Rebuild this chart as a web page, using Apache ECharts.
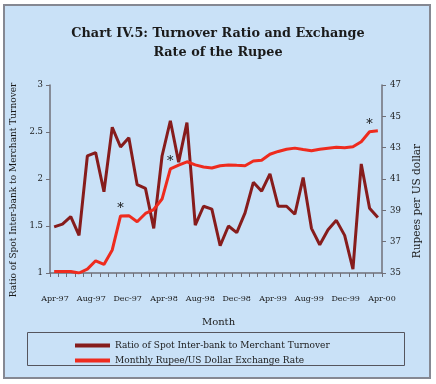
<!DOCTYPE html>
<html>
<head>
<meta charset="utf-8">
<script src="https://cdn.jsdelivr.net/npm/echarts@6/dist/echarts.min.js"></script>
<style>
html,body{margin:0;padding:0;background:#fff;}
#chart{width:436px;height:384px;}
</style>
</head>
<body>
<div id="chart"></div>
<script>
// Monthly data, Apr-97 .. Jul-00 (40 months)
const months = ['Apr-97','May-97','Jun-97','Jul-97','Aug-97','Sep-97','Oct-97','Nov-97','Dec-97','Jan-98','Feb-98','Mar-98',
  'Apr-98','May-98','Jun-98','Jul-98','Aug-98','Sep-98','Oct-98','Nov-98','Dec-98','Jan-99','Feb-99','Mar-99',
  'Apr-99','May-99','Jun-99','Jul-99','Aug-99','Sep-99','Oct-99','Nov-99','Dec-99','Jan-00','Feb-00','Mar-00',
  'Apr-00','May-00','Jun-00','Jul-00'];
const turnoverRatio = [1.49,1.52,1.60,1.40,2.245,2.28,1.865,2.55,2.34,2.44,1.94,1.90,
  1.475,2.245,2.62,2.18,2.60,1.51,1.71,1.68,1.29,1.50,1.43,1.64,
  1.965,1.87,2.055,1.71,1.71,1.625,2.015,1.475,1.30,1.46,1.56,1.40,
  1.04,2.16,1.69,1.59];
const exchangeRate = [35.1,35.1,35.1,35.0,35.25,35.78,35.55,36.47,38.64,38.66,38.27,38.8,
  39.05,39.72,41.65,41.88,42.1,41.9,41.77,41.7,41.85,41.9,41.87,41.85,
  42.15,42.2,42.58,42.76,42.9,42.97,42.88,42.8,42.9,42.96,43.02,43.0,
  43.06,43.38,44.02,44.08];
const starredMonths = ['Dec-97','Jun-98','Jun-00'];
const xTickLabels = ['Apr-97','Aug-97','Dec-97','Apr-98','Aug-98','Dec-98','Apr-99','Aug-99','Dec-99','Apr-00'];
const leftTicks = {min:1, max:3, interval:0.5};
const rightTicks = {min:35, max:47, interval:2};
const seriesNames = ['Ratio of Spot Inter-bank to Merchant Turnover','Monthly Rupee/US Dollar Exchange Rate'];

const FONT = 'DejaVu Serif';
const bg = '#c9e1f7';
const axisCol = '#6f6f78';
const txtCol = '#1a1a1a';

const starPoints = starredMonths.map(m => ({coord:[m, exchangeRate[months.indexOf(m)]]}));

const chart = echarts.init(document.getElementById('chart'), null, {renderer:'canvas'});
chart.setOption({
  backgroundColor:'#ffffff',
  animation:false,
  graphic:[
    {type:'rect', z:-10, shape:{x:4,y:5,width:426,height:373}, style:{fill:bg, stroke:'#858892', lineWidth:2}},
    {type:'rect', z:5, shape:{x:27.5,y:332.5,width:377,height:33}, style:{fill:'none', stroke:'#55555e', lineWidth:1}},
    {type:'text', z:5, x:14, y:190, rotation:Math.PI/2, style:{text:'Ratio of Spot Inter-bank to Merchant Turnover', fontFamily:FONT, fontSize:9, fill:txtCol, textAlign:'center', textVerticalAlign:'middle'}},
    {type:'text', z:5, x:417, y:201, rotation:Math.PI/2, style:{text:'Rupees per US dollar', fontFamily:FONT, fontSize:10.5, fill:txtCol, textAlign:'center', textVerticalAlign:'middle'}}
  ],
  title:{
    text:'Chart IV.5: Turnover Ratio and Exchange\nRate of the Rupee',
    left:'center', top:19,
    textStyle:{fontFamily:FONT, fontSize:12.8, fontWeight:'bold', color:txtCol, lineHeight:19}
  },
  legend:{
    orient:'vertical', left:70, top:336, itemGap:6,
    itemWidth:35, itemHeight:4, icon:'rect',
    textStyle:{fontFamily:FONT, fontSize:9, color:txtCol},
    data:seriesNames
  },
  grid:[
    {left:50, right:54, top:85, bottom:111},
    {left:55, right:54, top:85, bottom:111}
  ],
  xAxis:[
    {type:'category', gridIndex:0, data:months, boundaryGap:true,
     axisLine:{lineStyle:{color:axisCol, width:1.5}},
     axisTick:{show:true, interval:0, length:4, lineStyle:{color:axisCol}},
     axisLabel:{show:false}},
    {type:'category', gridIndex:1, data:xTickLabels, boundaryGap:false,
     axisLine:{show:false}, axisTick:{show:false},
     axisLabel:{interval:0, margin:22, fontFamily:FONT, fontSize:8, color:txtCol},
     name:'Month', nameLocation:'middle', nameGap:44,
     nameTextStyle:{fontFamily:FONT, fontSize:10, color:txtCol}}
  ],
  yAxis:[
    {type:'value', gridIndex:0, position:'left', min:leftTicks.min, max:leftTicks.max, interval:leftTicks.interval,
     axisLine:{show:true, lineStyle:{color:axisCol, width:1.5}},
     axisTick:{show:true, length:4, lineStyle:{color:axisCol}},
     splitLine:{show:false},
     axisLabel:{margin:7, fontFamily:FONT, fontSize:8.5, color:txtCol}},
    {type:'value', gridIndex:0, position:'right', min:rightTicks.min, max:rightTicks.max, interval:rightTicks.interval,
     axisLine:{show:true, lineStyle:{color:axisCol, width:1.5}},
     axisTick:{show:true, length:4, lineStyle:{color:axisCol}},
     splitLine:{show:false},
     axisLabel:{margin:8, fontFamily:FONT, fontSize:8.5, color:txtCol}},
    {type:'value', gridIndex:1, show:false}
  ],
  series:[
    {name:seriesNames[0], type:'line', xAxisIndex:0, yAxisIndex:0, data:turnoverRatio,
     symbol:'none', lineStyle:{color:'#861c1c', width:3}, itemStyle:{color:'#861c1c'}, z:3},
    {name:seriesNames[1], type:'line', xAxisIndex:0, yAxisIndex:1, data:exchangeRate,
     symbol:'none', lineStyle:{color:'#ee2b1e', width:3}, itemStyle:{color:'#ee2b1e'}, z:4,
     markPoint:{symbol:'circle', symbolSize:0, silent:true,
       label:{show:true, formatter:'*', position:'top', distance:1, color:'#111', fontSize:13, fontFamily:FONT},
       data:starPoints}}
  ]
});
</script>
</body>
</html>
